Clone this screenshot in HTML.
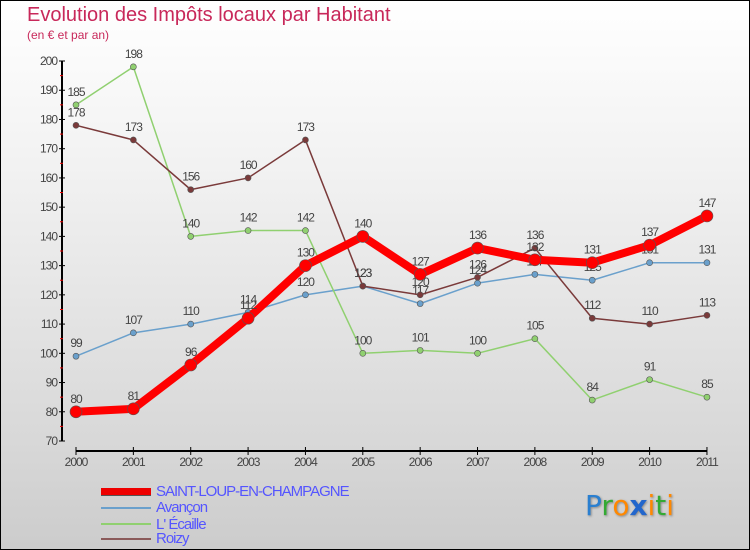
<!DOCTYPE html>
<html><head><meta charset="utf-8"><style>
body{margin:0}
#c{width:748px;height:548px;border:1px solid #000;background:linear-gradient(#fff,#f2f2f2 30%,#d8d8d8 80%,#ccc);position:relative;font-family:"Liberation Sans",sans-serif;overflow:hidden}
.t{position:absolute;color:#c8285a}
.lg{position:absolute;left:155px;font-size:15px;color:#55f;letter-spacing:-1px;line-height:16px}
.ll{position:absolute;left:100px;width:50px}
</style></head><body>
<div id="c">
<div class="t" style="left:26px;top:3px;font-size:20px">Evolution des Impôts locaux par Habitant</div>
<div class="t" style="left:26px;top:27px;font-size:12px">(en € et par an)</div>
<svg id="s" width="750" height="550" style="position:absolute;left:0;top:0"></svg>
<div class="ll" style="top:487px;height:7px;background:#e00;border-bottom:1px solid #555"></div>
<div class="lg" style="top:483px">SAINT-LOUP-EN-CHAMPAGNE</div>
<div class="ll" style="top:506px;height:2px;background:#6aa0cc"></div>
<div class="lg" style="top:499px">Avançon</div>
<div class="ll" style="top:522px;height:2px;background:#90d070"></div>
<div class="lg" style="top:516px">L' Écaille</div>
<div class="ll" style="top:537px;height:2px;background:#8a5a5a"></div>
<div class="lg" style="top:530px">Roizy</div>
<div style="position:absolute;left:584px;top:488px;font-size:28px;font-family:'DejaVu Sans',sans-serif;text-shadow:1px 1px 2px #888"><span style="color:#2a7fd0">P</span><span style="color:#3a3">r</span><span style="color:#f80">o</span><span style="color:#26c;font-weight:bold">x</span><span style="color:#f80">i</span><span style="color:#3a3">t</span><span style="color:#f80">i</span></div>
</div>
<script>
const years=["2000","2001","2002","2003","2004","2005","2006","2007","2008","2009","2010","2011"];
const yTicks=[70,80,90,100,110,120,130,140,150,160,170,180,190,200];
const saintLoup=[80,81,96,112,130,140,127,136,132,131,137,147];
const avancon=[99,107,110,114,120,123,117,124,127,125,131,131];
const ecaille=[185,198,140,142,142,100,101,100,105,84,91,85];
const roizy=[178,173,156,160,173,123,120,126,136,112,110,113];
const svg=document.getElementById('s');const NS='http://www.w3.org/2000/svg';
const X=i=>75+i*57.36, Y=v=>440-(v-70)*2.923;
function mk(t,a,name){const e=document.createElementNS(NS,t);for(const k in a)e.setAttribute(k,a[k]);


svg.appendChild(e);return e;}
mk('line',{x1:61,y1:Y(200),x2:61,y2:440,stroke:'#000','stroke-width':2},'y-axis');
mk('line',{x1:75,y1:450,x2:706,y2:450,stroke:'#000','stroke-width':2},'x-axis');
yTicks.forEach(v=>{mk('line',{x1:58,x2:64,y1:Y(v),y2:Y(v),stroke:'#000'},'y-tick');
if(v<200)mk('line',{x1:59,x2:62,y1:Y(v+5),y2:Y(v+5),stroke:'#e00'},'y-minor-tick');
const t=mk('text',{x:56,y:Y(v)+4,'text-anchor':'end','font-size':12,fill:'#444','letter-spacing':'-1'},'y-tick-label');t.textContent=v;});
years.forEach((y,i)=>{mk('line',{x1:X(i),x2:X(i),y1:446,y2:454,stroke:'#000'},'x-tick');
const t=mk('text',{x:X(i),y:465,'text-anchor':'middle','font-size':12,fill:'#444','letter-spacing':'-1'},'x-tick-label');t.textContent=y;});
function series(d,col,w,r,name){mk('polyline',{points:d.map((v,i)=>X(i)+','+Y(v)).join(' '),fill:'none',stroke:col,'stroke-width':w,'stroke-linejoin':'round'},name+'-line');
d.forEach((v,i)=>{mk('circle',{cx:X(i),cy:Y(v),r:r,fill:col,stroke:'#555','stroke-width':0.6},name+'-point');
const t=mk('text',{x:X(i),y:Y(v)-9,'text-anchor':'middle','font-size':12,fill:'#444','letter-spacing':'-1'},name+'-value');t.textContent=v;});}
series(avancon,'#6aa0cc',1.5,3,'avancon');
series(ecaille,'#90d070',1.5,3,'ecaille');
series(roizy,'#7a3a3a',1.5,3,'roizy');
series(saintLoup,'#f00',8,6,'saint-loup');
</script>
</body></html>
